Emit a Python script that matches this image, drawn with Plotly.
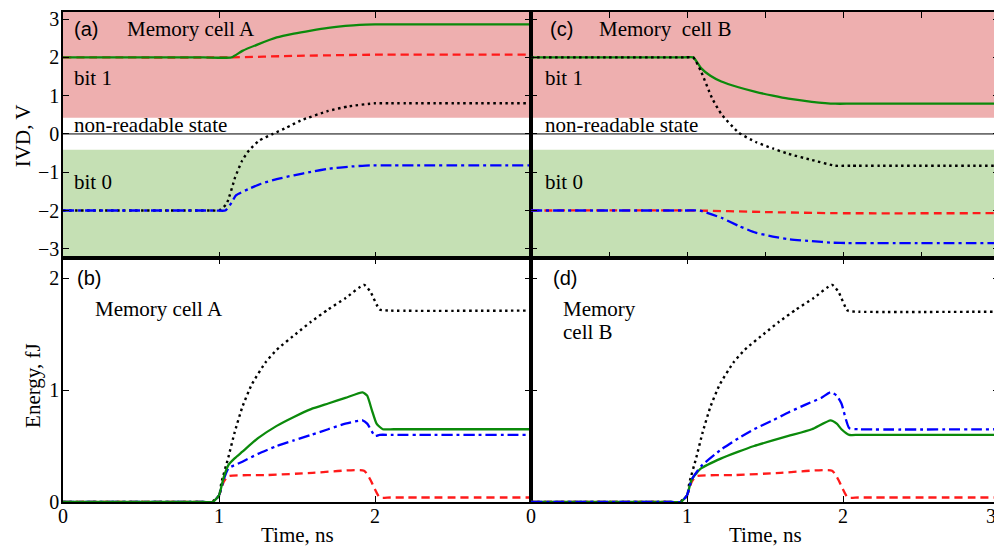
import plotly.graph_objects as go

# ---------------- data ----------------
# (a) IVD, memory cell A
a_green_t = [0, 0.9, 1.08, 1.15, 1.25, 1.37, 1.48, 1.59, 1.70, 1.81, 1.90, 2.00, 2.1, 3.0]
a_green_v = [2.0, 2.0, 2.0, 2.17, 2.34, 2.52, 2.62, 2.70, 2.77, 2.82, 2.85, 2.86, 2.86, 2.86]
a_red_t = [0, 1.08, 1.5, 2.0, 3.0]
a_red_v = [2.0, 2.0, 2.04, 2.07, 2.07]
a_black_t = [0, 0.96, 1.0, 1.048, 1.104, 1.148, 1.192, 1.258, 1.346, 1.435, 1.523, 1.70, 1.83, 2.0, 2.1, 3.0]
a_black_v = [-2.0, -2.0, -2.0, -1.83, -1.13, -0.70, -0.43, -0.17, 0.0, 0.17, 0.35, 0.60, 0.72, 0.80, 0.80, 0.80]
a_blue_t = [0, 0.98, 1.04, 1.08, 1.11, 1.20, 1.27, 1.37, 1.48, 1.59, 1.70, 1.85, 1.97, 2.07, 3.0]
a_blue_v = [-2.0, -2.0, -2.0, -1.8, -1.6, -1.42, -1.30, -1.18, -1.08, -0.99, -0.91, -0.85, -0.82, -0.82, -0.82]

# (c) IVD, memory cell B
c_green_t = [0, 0.98, 1.04, 1.09, 1.15, 1.22, 1.33, 1.44, 1.55, 1.65, 1.80, 1.95, 2.05, 3.0]
c_green_v = [2.0, 2.0, 2.0, 1.72, 1.52, 1.37, 1.22, 1.10, 1.00, 0.92, 0.84, 0.79, 0.79, 0.79]
c_black_t = [0, 0.99, 1.04, 1.09, 1.16, 1.22, 1.33, 1.44, 1.55, 1.65, 1.80, 1.95, 2.05, 3.0]
c_black_v = [2.0, 2.0, 2.0, 1.63, 0.94, 0.52, 0.04, -0.21, -0.38, -0.52, -0.68, -0.83, -0.83, -0.83]
c_red_t = [0, 1.04, 1.5, 1.95, 3.0]
c_red_v = [-2.0, -2.0, -2.04, -2.07, -2.07]
c_blue_t = [0, 1.0, 1.08, 1.22, 1.33, 1.44, 1.55, 1.65, 1.80, 1.93, 2.03, 3.0]
c_blue_v = [-2.0, -2.0, -2.0, -2.19, -2.40, -2.58, -2.68, -2.75, -2.80, -2.84, -2.85, -2.85]

# (b) Energy, memory cell A
b_black_t = [0, 0.9, 0.95, 1.0, 1.015, 1.06, 1.10, 1.15, 1.21, 1.30, 1.37, 1.50, 1.59, 1.70, 1.81, 1.93, 1.97, 2.03, 2.1, 3.0]
b_black_v = [0, 0, 0, 0.05, 0.17, 0.40, 0.62, 0.85, 1.05, 1.25, 1.36, 1.51, 1.61, 1.72, 1.82, 1.94, 1.88, 1.72, 1.71, 1.71]
b_green_t = [0, 0.9, 0.96, 1.0, 1.03, 1.06, 1.10, 1.15, 1.25, 1.37, 1.48, 1.59, 1.70, 1.81, 1.92, 1.95, 1.98, 2.01, 2.05, 2.12, 3.0]
b_green_v = [0, 0, 0, 0.06, 0.22, 0.33, 0.39, 0.45, 0.57, 0.68, 0.76, 0.83, 0.88, 0.93, 0.98, 0.95, 0.82, 0.70, 0.65, 0.65, 0.65]
b_blue_t = [0, 0.9, 0.96, 1.0, 1.03, 1.06, 1.15, 1.25, 1.37, 1.48, 1.59, 1.70, 1.81, 1.92, 1.95, 2.0, 2.03, 2.1, 3.0]
b_blue_v = [0, 0, 0, 0.06, 0.20, 0.30, 0.36, 0.43, 0.50, 0.55, 0.60, 0.65, 0.70, 0.73, 0.70, 0.59, 0.60, 0.60, 0.60]
b_red_t = [0, 0.9, 0.96, 1.0, 1.03, 1.06, 1.30, 1.60, 1.93, 1.97, 2.03, 2.1, 3.0]
b_red_v = [0, 0, 0, 0.06, 0.18, 0.23, 0.24, 0.26, 0.28, 0.20, 0.04, 0.04, 0.04]

# (d) Energy, memory cell B
d_black_t = [0, 0.9, 0.95, 1.0, 1.015, 1.06, 1.10, 1.15, 1.21, 1.30, 1.37, 1.50, 1.59, 1.70, 1.81, 1.93, 1.97, 2.03, 2.1, 3.0]
d_black_v = [0, 0, 0, 0.05, 0.17, 0.40, 0.62, 0.85, 1.05, 1.25, 1.36, 1.51, 1.61, 1.72, 1.82, 1.94, 1.88, 1.71, 1.70, 1.70]
d_blue_t = [0, 0.9, 0.96, 1.0, 1.03, 1.09, 1.22, 1.33, 1.43, 1.55, 1.65, 1.76, 1.86, 1.92, 1.96, 1.99, 2.04, 2.1, 3.0]
d_blue_v = [0, 0, 0, 0.06, 0.20, 0.32, 0.47, 0.57, 0.65, 0.73, 0.80, 0.87, 0.93, 0.98, 0.95, 0.88, 0.66, 0.65, 0.65]
d_green_t = [0, 0.9, 0.96, 1.0, 1.03, 1.09, 1.22, 1.33, 1.43, 1.55, 1.65, 1.80, 1.92, 1.96, 1.99, 2.04, 2.1, 3.0]
d_green_v = [0, 0, 0, 0.06, 0.20, 0.30, 0.39, 0.45, 0.50, 0.55, 0.59, 0.65, 0.73, 0.70, 0.65, 0.60, 0.60, 0.60]
d_red_t = [0, 0.9, 0.96, 1.0, 1.03, 1.06, 1.30, 1.60, 1.93, 1.97, 2.03, 2.1, 3.0]
d_red_v = [0, 0, 0, 0.06, 0.18, 0.23, 0.24, 0.26, 0.28, 0.20, 0.04, 0.04, 0.04]

ivd_ticks = [-3, -2, -1, 0, 1, 2, 3]
energy_ticks = [0, 1, 2]
time_ticks_left = [0, 1, 2]
time_ticks_right = [0, 1, 2, 3]
time_labels_right = ["0", "1", "2", ""]   # the final "3" is drawn as an edge-aligned label below
bit1_low = 0.42
bit0_high = -0.41

# ---------------- styles ----------------
GREEN = "#0b8a0b"
RED = "#ff1a1a"
BLUE = "#0000ff"
BLACK = "#000000"
PINK_BAND = "#eeafaf"
GREEN_BAND = "#c5e0b4"
SERIF = "Liberation Serif"
SANS = "Liberation Sans"
TXT = 21

styles = {
    "green": dict(color=GREEN, width=2.3, dash="solid"),
    "red": dict(color=RED, width=2.3, dash="8px,5px"),
    "blue": dict(color=BLUE, width=2.3, dash="11px,4px,3px,4px"),
    "black": dict(color=BLACK, width=2.4, dash="2.5px,3.5px"),
}

fig = go.Figure()

def add(t, v, style, xa, ya):
    fig.add_trace(go.Scatter(
        x=t, y=v, mode="lines", xaxis=xa, yaxis=ya,
        line=dict(shape="spline", smoothing=0.5, **styles[style]),
        showlegend=False, hoverinfo="skip"))

# top-left (a): x3 / y3
add(a_red_t, a_red_v, "red", "x3", "y3")
add(a_green_t, a_green_v, "green", "x3", "y3")
add(a_black_t, a_black_v, "black", "x3", "y3")
add(a_blue_t, a_blue_v, "blue", "x3", "y3")
# top-right (c): x4 / y4
add(c_green_t, c_green_v, "green", "x4", "y4")
add(c_black_t, c_black_v, "black", "x4", "y4")
add(c_red_t, c_red_v, "red", "x4", "y4")
add(c_blue_t, c_blue_v, "blue", "x4", "y4")
# bottom-left (b): x / y
add(b_black_t, b_black_v, "black", "x", "y")
add(b_red_t, b_red_v, "red", "x", "y")
add(b_blue_t, b_blue_v, "blue", "x", "y")
add(b_green_t, b_green_v, "green", "x", "y")
# bottom-right (d): x2 / y2
add(d_black_t, d_black_v, "black", "x2", "y2")
add(d_red_t, d_red_v, "red", "x2", "y2")
add(d_green_t, d_green_v, "green", "x2", "y2")
add(d_blue_t, d_blue_v, "blue", "x2", "y2")

YTOP = [-3.24, 3.185]
YBOT = [0, 2.18]
SPLIT = 0.498

axis_common = dict(showline=True, linecolor="black", linewidth=1.5, mirror="ticks",
                   ticks="inside", ticklen=6, tickwidth=1, tickcolor="black",
                   showgrid=False, zeroline=False, ticklabeloverflow="allow",
                   tickfont=dict(family=SERIF, size=20, color="black"))

# the page body adds an 8px offset; figure sized/margined to compensate
fig.update_layout(
    width=994, height=540,
    margin=dict(l=55, r=3, t=0, b=46),
    paper_bgcolor="white", plot_bgcolor="white",
    xaxis=dict(domain=[0, 0.5], range=[0, 3], anchor="y", tickvals=time_ticks_left,
               ticklabelstandoff=-5, **axis_common),
    xaxis2=dict(domain=[0.5, 1], range=[0, 3], anchor="y2", tickvals=time_ticks_right,
                ticktext=time_labels_right, ticklabelstandoff=-5, **axis_common),
    xaxis3=dict(domain=[0, 0.5], range=[0, 3], anchor="y3", tickvals=[1, 2], showticklabels=False, **axis_common),
    xaxis4=dict(domain=[0.5, 1], range=[0, 3], anchor="y4", dtick=0.5, tick0=0, showticklabels=False, **axis_common),
    yaxis=dict(domain=[0, SPLIT], range=YBOT, anchor="x", tickvals=energy_ticks, ticklabelstandoff=-2, **axis_common),
    yaxis2=dict(domain=[0, SPLIT], range=YBOT, anchor="x2", tickvals=energy_ticks, showticklabels=False, **axis_common),
    yaxis3=dict(domain=[SPLIT, 1], range=YTOP, anchor="x3", tickvals=ivd_ticks, ticklabelstandoff=-2, **axis_common),
    yaxis4=dict(domain=[SPLIT, 1], range=YTOP, anchor="x4", tickvals=ivd_ticks, showticklabels=False, **axis_common),
)

# bands and zero lines in top panels
for xa, ya in (("x3", "y3"), ("x4", "y4")):
    fig.add_shape(type="rect", xref=xa + " domain", yref=ya, x0=0, x1=1, y0=bit1_low, y1=YTOP[1],
                  fillcolor=PINK_BAND, line=dict(width=0), layer="below")
    fig.add_shape(type="rect", xref=xa + " domain", yref=ya, x0=0, x1=1, y0=YTOP[0], y1=bit0_high,
                  fillcolor=GREEN_BAND, line=dict(width=0), layer="below")
    fig.add_shape(type="line", xref=xa + " domain", yref=ya, x0=0, x1=1, y0=0, y1=0,
                  line=dict(color="black", width=1), layer="below")

def txt(x, y, s, xa, ya, font=SERIF, size=TXT):
    fig.add_annotation(x=x, y=y, xref=xa, yref=ya, text=s, showarrow=False,
                       xanchor="left", yanchor="middle", align="left",
                       font=dict(family=font, size=size, color="black"))

# panel (a)
txt(0.06, 2.74, "(a)", "x3", "y3", SANS, 20)
txt(0.40, 2.74, "Memory cell A", "x3", "y3")
txt(0.06, 1.45, "bit 1", "x3", "y3")
txt(0.06, 0.24, "non-readable state", "x3", "y3")
txt(0.06, -1.26, "bit 0", "x3", "y3")
# panel (c)
txt(0.11, 2.74, "(c)", "x4", "y4", SANS, 20)
txt(0.42, 2.74, "Memory  cell B", "x4", "y4")
txt(0.08, 1.45, "bit 1", "x4", "y4")
txt(0.08, 0.24, "non-readable state", "x4", "y4")
txt(0.08, -1.26, "bit 0", "x4", "y4")
# panel (b)
txt(0.075, 2.0, "(b)", "x", "y", SANS, 20)
txt(0.19, 1.72, "Memory cell A", "x", "y")
# panel (d)
txt(0.13, 2.0, "(d)", "x2", "y2", SANS, 20)
txt(0.19, 1.72, "Memory", "x2", "y2")
txt(0.19, 1.517, "cell B", "x2", "y2")

# last time tick label "3", aligned to the right edge so it stays inside the page
fig.add_annotation(x=1.0, y=-0.0295, xref="paper", yref="paper", text=str(time_ticks_right[-1]),
                   showarrow=False, xanchor="right", yanchor="middle", xshift=-1,
                   font=dict(family=SERIF, size=20, color="black"))

# axis titles
fig.add_annotation(x=-0.042, y=0.748, xref="paper", yref="paper", text="IVD, V", textangle=-90,
                   showarrow=False, xanchor="center", yanchor="middle",
                   font=dict(family=SERIF, size=TXT, color="black"))
fig.add_annotation(x=-0.032, y=0.237, xref="paper", yref="paper", text="Energy, fJ", textangle=-90,
                   showarrow=False, xanchor="center", yanchor="middle",
                   font=dict(family=SERIF, size=TXT, color="black"))
for xa in ("x", "x2"):
    fig.add_annotation(x=1.5, y=-0.067, xref=xa, yref="paper", text="Time, ns", showarrow=False,
                       xanchor="center", yanchor="middle",
                       font=dict(family=SERIF, size=TXT, color="black"))

fig.write_html("out.html")
